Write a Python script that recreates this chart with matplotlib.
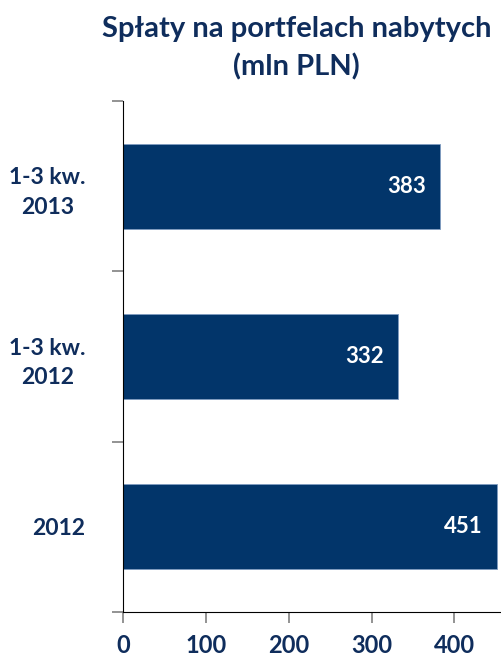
import matplotlib.pyplot as plt

# Dane
kategorie = ['1-3 kw.\n2013', '1-3 kw.\n2012', '2012']
wartosci = [383, 332, 451]
x_ticks = [0, 100, 200, 300, 400]

granat = '#02356a'
tekst = '#0f2d5c'

plt.rcParams['font.family'] = ['Lato', 'DejaVu Sans']

fig = plt.figure(figsize=(5.01, 6.59), dpi=100)
ax = fig.add_axes([0.2455, 0.0713, 0.7525, 0.7754])

pozycje = list(range(len(kategorie)))
ax.barh(pozycje, wartosci, height=0.5, color=granat, edgecolor='#7f9cc0', linewidth=0.6)

for p, w in zip(pozycje, wartosci):
    ax.text(w - 17, p, str(w), ha='right', va='center', color='white',
            fontsize=16, fontweight='bold')

ax.set_ylim(2.5, -0.5)
ax.set_xlim(0, 455)

ax.set_yticks(pozycje)
ax.set_yticklabels(kategorie, fontsize=16.5, fontweight='bold', color=tekst,
                   linespacing=1.5, ha='right', multialignment='center')
ax.tick_params(axis='y', length=0, pad=27)
ax.set_yticks([-0.5, 0.5, 1.5, 2.5], minor=True)
ax.tick_params(axis='y', which='minor', length=8, color='#808080', width=1.2)

ax.set_xticks(x_ticks)
ax.set_xticklabels([str(t) for t in x_ticks], fontsize=17, fontweight='bold', color=tekst)
ax.tick_params(axis='x', length=8, color='#808080', width=1.2, pad=8)

ax.spines['top'].set_visible(False)
ax.spines['right'].set_visible(False)
ax.spines['left'].set_color('black')
ax.spines['bottom'].set_color('black')

fig.text(0.592, 0.956, 'Spłaty na portfelach nabytych', ha='center', va='center',
         fontsize=21, fontweight='bold', color=tekst)
fig.text(0.592, 0.899, '(mln PLN)', ha='center', va='center',
         fontsize=21, fontweight='bold', color=tekst)

plt.savefig('out.png', dpi=100)
plt.close()
